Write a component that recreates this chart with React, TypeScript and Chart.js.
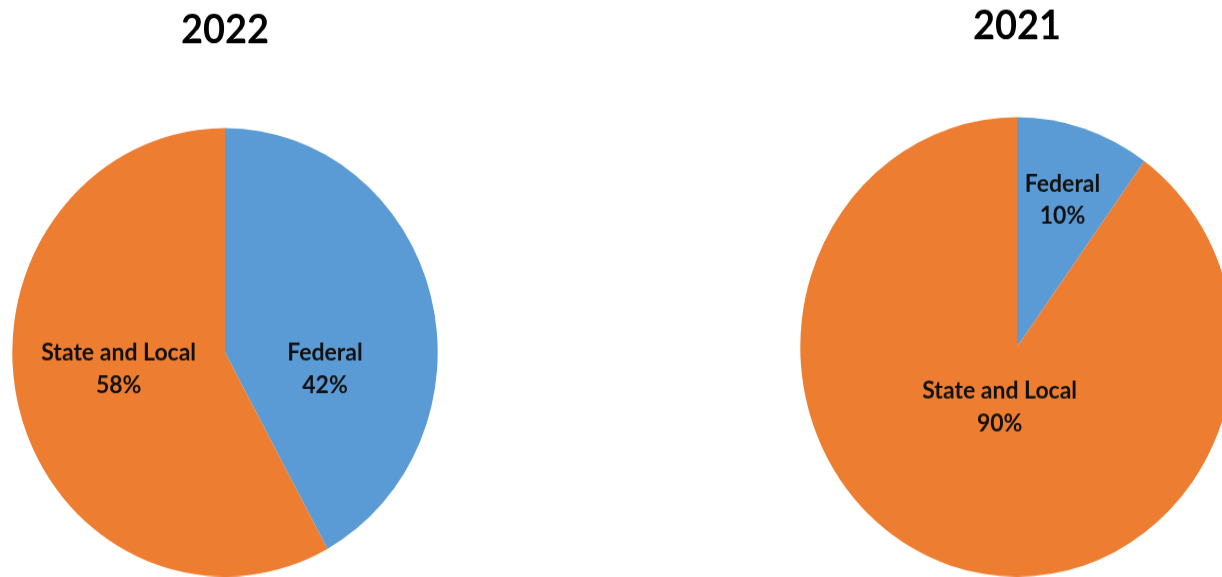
import React, { useEffect, useRef } from "react";
import { Chart, registerables } from "chart.js";

Chart.register(...registerables);

const categories = ["Federal", "State and Local"];
const values2022 = [42, 58];
const values2021 = [10, 90];
const titles = ["2022", "2021"];
const colors = ["#5B9BD5", "#ED7D31"];

const FONT = "Lato, 'Open Sans', 'Liberation Sans', sans-serif";

const labelPlugin = {
  id: "sliceLabels",
  afterDatasetsDraw(chart: any, _args: any, opts: any) {
    const ctx = chart.ctx;
    const meta = chart.getDatasetMeta(0);
    const data = chart.data.datasets[0].data;
    const offsets = opts.offsets || [];
    ctx.save();
    ctx.fillStyle = opts.color || "#111";
    ctx.font = `bold ${opts.size}px ${FONT}`;
    ctx.textAlign = "center";
    ctx.textBaseline = "middle";
    meta.data.forEach((arc: any, i: number) => {
      const r = arc.outerRadius;
      const o = offsets[i] || [0, 0];
      const cx = arc.x + o[0] * r;
      const cy = arc.y + o[1] * r;
      const lh = opts.lineHeight;
      ctx.fillText(chart.data.labels[i], cx, cy - lh / 2);
      ctx.fillText(`${data[i]}%`, cx, cy + lh / 2);
    });
    ctx.restore();
  },
};

function PieChart(props: {
  values: number[];
  title: string;
  width: number;
  height: number;
  pad: number;
  titleTop: number;
  titleBottom: number;
  offsets: number[][];
}) {
  const ref = useRef<HTMLCanvasElement>(null);
  useEffect(() => {
    const chart = new Chart(ref.current!, {
      type: "pie",
      data: {
        labels: categories,
        datasets: [
          {
            data: props.values,
            backgroundColor: colors,
            borderWidth: 0,
          },
        ],
      },
      options: {
        animation: false,
        responsive: false,
        devicePixelRatio: 1,
        layout: { padding: { left: props.pad, right: props.pad, top: 0, bottom: 0 } },
        plugins: {
          legend: { display: false },
          tooltip: { enabled: false },
          title: {
            display: true,
            text: props.title,
            color: "#000",
            font: { family: FONT, size: 38, weight: "bold", lineHeight: 1.2 },
            padding: { top: props.titleTop, bottom: props.titleBottom },
          },
          sliceLabels: {
            offsets: props.offsets,
            size: 23,
            lineHeight: 30.5,
            color: "#111",
          },
        } as any,
      },
      plugins: [labelPlugin],
    });
    return () => chart.destroy();
  }, []);
  return <canvas ref={ref} width={props.width} height={props.height} />;
}

export default function App() {
  return (
    <div
      style={{
        position: "fixed",
        left: 0,
        top: 0,
        width: 1222,
        height: 577,
        overflow: "hidden",
        background: "#fff",
      }}
    >
      <div
        style={{
          position: "absolute",
          left: 0,
          top: 0,
          transform: "scaleY(1.054)",
          transformOrigin: "0 0",
        }}
      >
        <PieChart
          values={values2022}
          title={titles[0]}
          width={450}
          height={547}
          pad={12}
          titleTop={6}
          titleBottom={70}
          offsets={[
            [0.47, 0.075],
            [-0.5, 0.075],
          ]}
        />
      </div>
      <div
        style={{
          position: "absolute",
          left: 783,
          top: 0,
          transform: "scaleY(1.06)",
          transformOrigin: "0 0",
        }}
      >
        <PieChart
          values={values2021}
          title={titles[1]}
          width={468}
          height={544}
          pad={17}
          titleTop={2}
          titleBottom={63}
          offsets={[
            [0.21, -0.64],
            [-0.08, 0.263],
          ]}
        />
      </div>
    </div>
  );
}
